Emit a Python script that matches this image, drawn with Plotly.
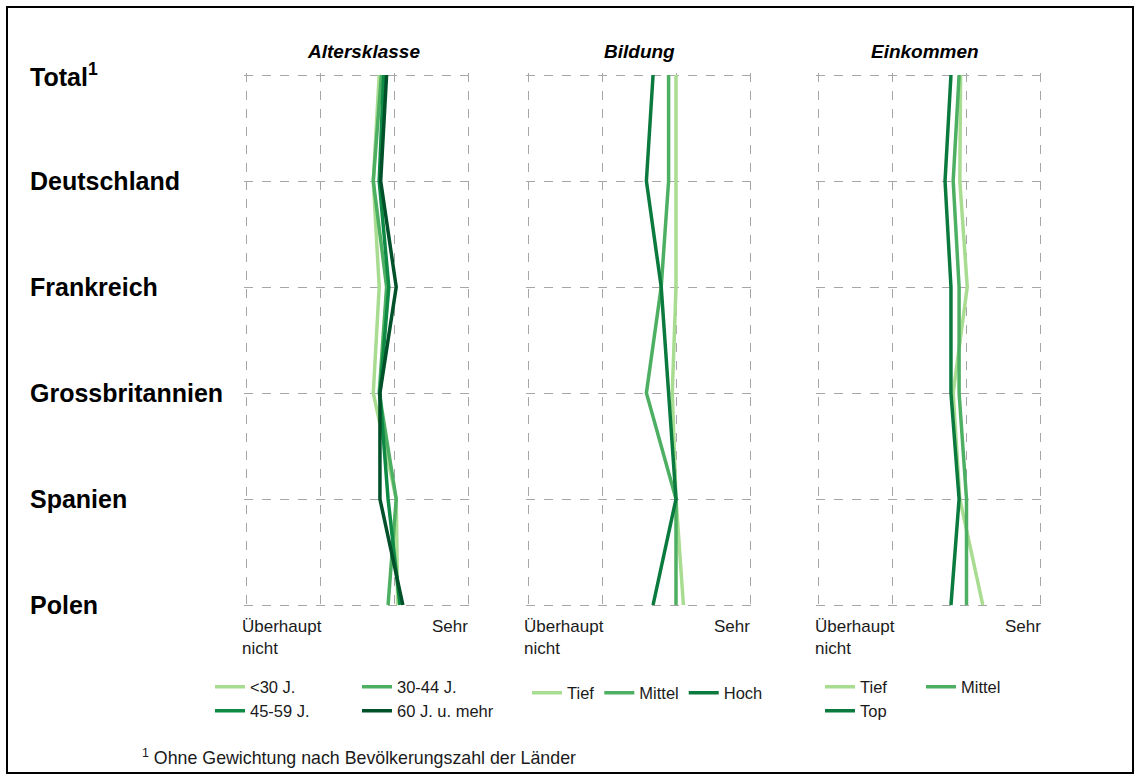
import plotly.graph_objects as go

# Rows (top to bottom) and scale labels
countries = ["Total<sup>1</sup>", "Deutschland", "Frankreich", "Grossbritannien", "Spanien", "Polen"]
row_pos = [0, 1, 2, 3, 4, 5]
scale_low = "Überhaupt<br>nicht"
scale_high = "Sehr"
panel_titles = ["Altersklasse", "Bildung", "Einkommen"]

# Altersklasse (scale 1 = überhaupt nicht ... 4 = sehr)
age_lt30 = [2.80, 2.72, 2.80, 2.72, 3.03, 3.05]
age_30_44 = [2.83, 2.72, 2.90, 2.80, 3.03, 2.92]
age_45_59 = [2.86, 2.80, 2.93, 2.81, 2.92, 3.08]
age_60plus = [2.90, 2.82, 3.03, 2.81, 2.81, 3.12]

# Bildung
edu_tief = [3.00, 3.00, 3.00, 2.95, 3.00, 3.10]
edu_mittel = [2.90, 2.90, 2.80, 2.60, 3.00, 3.00]
edu_hoch = [2.69, 2.60, 2.80, 2.90, 3.00, 2.69]

# Einkommen
inc_tief = [2.92, 2.91, 3.01, 2.82, 2.91, 3.22]
inc_mittel = [2.90, 2.82, 2.90, 2.90, 3.00, 3.00]
inc_top = [2.79, 2.71, 2.79, 2.79, 2.90, 2.79]

LIGHT = "#a8dc90"
MID = "#4caf62"
DARK = "#0b7a3e"
DARKEST = "#00502a"
AGE_45 = "#0e8a45"

FONT = "Liberation Sans, Arial, sans-serif"

W, H = 1140, 780
fig = go.Figure()

panels = [
    ("x", "y", [("<30 J.", age_lt30, LIGHT, "legend"),
                ("30-44 J.", age_30_44, MID, "legend"),
                ("45-59 J.", age_45_59, AGE_45, "legend2"),
                ("60 J. u. mehr", age_60plus, DARKEST, "legend2")]),
    ("x2", "y2", [("Tief", edu_tief, LIGHT, "legend3"),
                  ("Mittel", edu_mittel, MID, "legend3"),
                  ("Hoch", edu_hoch, DARK, "legend3")]),
    ("x3", "y3", [("Tief", inc_tief, LIGHT, "legend4"),
                  ("Mittel", inc_mittel, MID, "legend4"),
                  ("Top", inc_top, DARK, "legend5")]),
]

for xa, ya, series in panels:
    for name, vals, color, leg in series:
        fig.add_trace(go.Scatter(
            x=vals, y=row_pos, mode="lines", name=name,
            line=dict(color=color, width=3.5),
            xaxis=xa, yaxis=ya, legend=leg, hoverinfo="skip",
        ))

# Panel geometry in pixels (positions of scale values 1 and 4, rows 0 and 5)
x_px = [(246, 468), (528, 750), (818.5, 1040.5)]
y_top, y_bot = 75, 605
XPAD = 0.03   # value padding so the edge grid lines stay inside the plot area
YPAD = 0.02
px_per_x = 222 / 3
px_per_y = (y_bot - y_top) / 5

axis_common = dict(showgrid=True, gridcolor="#a6a6a6", griddash="dash", gridwidth=1,
                   zeroline=False, showline=False, showticklabels=False, ticks="",
                   fixedrange=True)

layout = dict(
    width=W, height=H, margin=dict(l=0, r=0, t=0, b=0),
    paper_bgcolor="white", plot_bgcolor="white",
    font=dict(family=FONT, color="#1a1a1a"),
)
for i, (x0, x1) in enumerate(x_px):
    sfx = "" if i == 0 else str(i + 1)
    dx = XPAD * px_per_x
    dy = YPAD * px_per_y
    layout["xaxis" + sfx] = dict(axis_common, domain=[(x0 - dx) / W, (x1 + dx) / W],
                                 range=[1 - XPAD, 4 + XPAD], tickvals=[1, 2, 3, 4],
                                 anchor="y" + sfx)
    layout["yaxis" + sfx] = dict(axis_common,
                                 domain=[1 - (y_bot + dy) / H, 1 - (y_top - dy) / H],
                                 range=[5 + YPAD, -YPAD], tickvals=row_pos,
                                 anchor="x" + sfx)
fig.update_layout(**layout)

annotations = []
# Panel titles
title_x = [363, 639, 925]
for t, tx in zip(panel_titles, title_x):
    annotations.append(dict(text="<b><i>" + t + "</i></b>", x=tx / W, y=1 - 52 / H,
                            xref="paper", yref="paper", showarrow=False,
                            font=dict(size=19, color="#000"), xanchor="center", yanchor="middle"))
# Row labels
for lab, yp in zip(countries, row_pos):
    annotations.append(dict(text="<b>" + lab + "</b>", x=28 / W, y=yp, xref="paper", yref="y",
                            showarrow=False, xanchor="left", yanchor="middle",
                            font=dict(size=25, color="#000")))
# Scale end labels under each panel
for i in range(3):
    sfx = "" if i == 0 else str(i + 1)
    annotations.append(dict(text=scale_low, x=1, y=1 - 615 / H, xref="x" + sfx, yref="paper",
                            showarrow=False, xanchor="left", yanchor="top", align="left",
                            xshift=-6, font=dict(size=17)))
    annotations.append(dict(text=scale_high, x=4, y=1 - 615 / H, xref="x" + sfx, yref="paper",
                            showarrow=False, xanchor="right", yanchor="top",
                            xshift=2, font=dict(size=17)))
# Footnote
annotations.append(dict(text="<sup>1</sup> Ohne Gewichtung nach Bevölkerungszahl der Länder",
                        x=140 / W, y=1 - 757 / H, xref="paper", yref="paper", showarrow=False,
                        xanchor="left", yanchor="middle", font=dict(size=17.8)))
fig.update_layout(annotations=annotations)

# Frame around the whole graphic
fig.add_shape(type="rect", xref="paper", yref="paper", x0=7 / W, x1=1133 / W,
              y0=1 - 773 / H, y1=1 - 7 / H, line=dict(color="#000", width=2))

leg_common = dict(orientation="h", bgcolor="rgba(0,0,0,0)", borderwidth=0,
                  font=dict(size=16.5, color="#1a1a1a"), xanchor="left", yanchor="middle",
                  itemclick=False, itemdoubleclick=False, tracegroupgap=0)
fig.update_layout(
    showlegend=True,
    legend=dict(leg_common, x=210 / W, y=1 - 687 / H, entrywidth=102),
    legend2=dict(leg_common, x=210 / W, y=1 - 711 / H, entrywidth=102),
    legend3=dict(leg_common, x=527 / W, y=1 - 693 / H),
    legend4=dict(leg_common, x=820 / W, y=1 - 687 / H, entrywidth=56),
    legend5=dict(leg_common, x=820 / W, y=1 - 711 / H),
)

fig.write_html("out.html")
